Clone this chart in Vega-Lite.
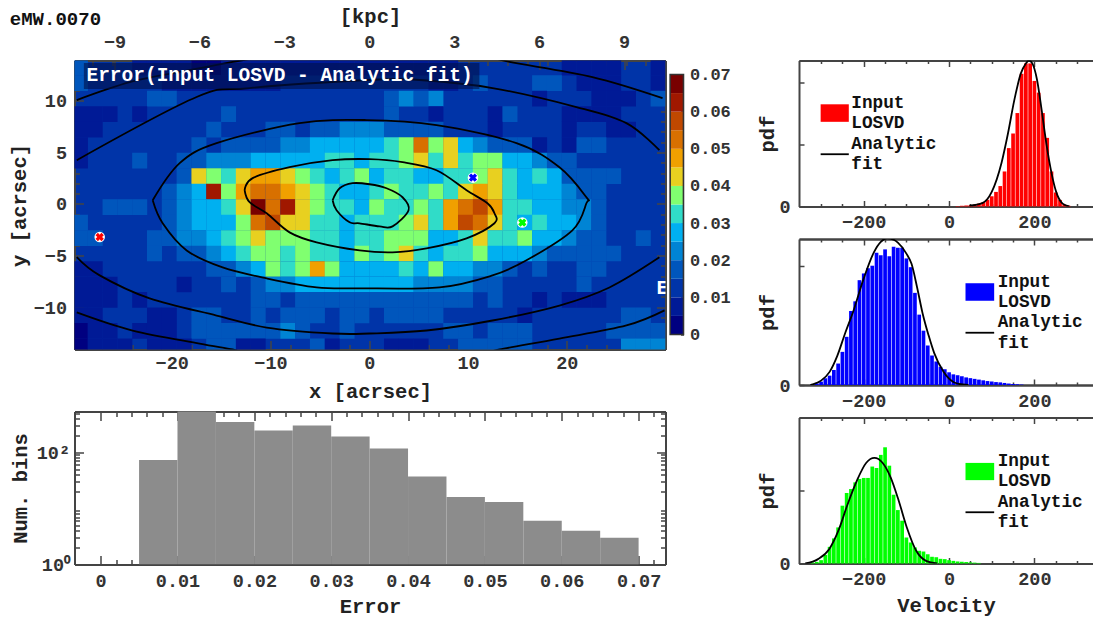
{"$schema":"https://vega.github.io/schema/vega-lite/v6.json","background":"white","padding":{"left":8.5,"top":6.5,"right":0,"bottom":3},"spacing":26.5,"config":{"view":{"stroke":null},"axis":{"grid":false,"labelFont":"Liberation Mono","labelFontWeight":"bold","labelFontSize":18.5,"labelColor":"#333","titleFont":"Liberation Mono","titleFontWeight":"bold","titleFontSize":20.5,"titleColor":"#222","domainColor":"#444","domainWidth":2,"tickColor":"#444","tickWidth":1.5,"zindex":1,"labelOverlap":false,"labelFlush":false,"labelBound":false,"labelPadding":9,"titlePadding":6}},"hconcat":[{"vconcat":[{"width":591,"height":289,"view":{"fill":"#0034a8"},"layer":[{"data":{"values":[
{"x":-29.25,"y":13.2,"v":0.018},{"x":-23.25,"y":13.2,"v":0.008},{"x":-21.75,"y":13.2,"v":0.008},{"x":-20.25,"y":13.2,"v":0.008},{"x":-18.75,"y":13.2,"v":0.008},{"x":-17.25,"y":13.2,"v":0.003},{"x":-15.75,"y":13.2,"v":0.003},{"x":-14.25,"y":13.2,"v":0.008},{"x":-12.75,"y":13.2,"v":0.008},{"x":-11.25,"y":13.2,"v":0.008},{"x":-9.75,"y":13.2,"v":0.008},{"x":-8.25,"y":13.2,"v":0.008},{"x":-6.75,"y":13.2,"v":0.008},{"x":-5.25,"y":13.2,"v":0.008},{"x":-3.75,"y":13.2,"v":0.008},{"x":-2.25,"y":13.2,"v":0.008},{"x":-0.75,"y":13.2,"v":0.008},{"x":0.75,"y":13.2,"v":0.008},{"x":2.25,"y":13.2,"v":0.008},{"x":3.75,"y":13.2,"v":0.008},{"x":5.25,"y":13.2,"v":0.008},{"x":6.75,"y":13.2,"v":0.008},{"x":8.25,"y":13.2,"v":0.008},{"x":20.25,"y":13.2,"v":0.008},{"x":21.75,"y":13.2,"v":0.008},{"x":23.25,"y":13.2,"v":0.008},{"x":24.75,"y":13.2,"v":0.008},{"x":29.25,"y":13.2,"v":0.008},
{"x":-29.25,"y":11.7,"v":0.018},{"x":-20.25,"y":11.7,"v":0.008},{"x":-18.75,"y":11.7,"v":0.008},{"x":-17.25,"y":11.7,"v":0.008},{"x":-15.75,"y":11.7,"v":0.008},{"x":-14.25,"y":11.7,"v":0.008},{"x":-12.75,"y":11.7,"v":0.008},{"x":-11.25,"y":11.7,"v":0.008},{"x":-9.75,"y":11.7,"v":0.008},{"x":6.75,"y":11.7,"v":0.008},{"x":8.25,"y":11.7,"v":0.008},{"x":11.25,"y":11.7,"v":0.018},{"x":17.25,"y":11.7,"v":0.018},{"x":18.75,"y":11.7,"v":0.018},{"x":21.75,"y":11.7,"v":0.008},{"x":23.25,"y":11.7,"v":0.008},{"x":24.75,"y":11.7,"v":0.008},{"x":29.25,"y":11.7,"v":0.008},
{"x":-21.75,"y":10.2,"v":0.018},{"x":-20.25,"y":10.2,"v":0.018},{"x":2.25,"y":10.2,"v":0.018},{"x":3.75,"y":10.2,"v":0.023},{"x":5.25,"y":10.2,"v":0.018},{"x":6.75,"y":10.2,"v":0.023},{"x":17.25,"y":10.2,"v":0.008},{"x":23.25,"y":10.2,"v":0.008},{"x":24.75,"y":10.2,"v":0.008},{"x":26.25,"y":10.2,"v":0.008},{"x":29.25,"y":10.2,"v":0.018},
{"x":-29.25,"y":8.7,"v":0.008},{"x":-27.75,"y":8.7,"v":0.008},{"x":-26.25,"y":8.7,"v":0.008},{"x":-23.25,"y":8.7,"v":0.008},{"x":-14.25,"y":8.7,"v":0.018},{"x":2.25,"y":8.7,"v":0.018},{"x":6.75,"y":8.7,"v":0.008},{"x":12.75,"y":8.7,"v":0.008},{"x":14.25,"y":8.7,"v":0.018},{"x":20.25,"y":8.7,"v":0.008},{"x":21.75,"y":8.7,"v":0.008},{"x":23.25,"y":8.7,"v":0.008},{"x":24.75,"y":8.7,"v":0.008},
{"x":-29.25,"y":7.2,"v":0.008},{"x":-27.75,"y":7.2,"v":0.008},{"x":-15.75,"y":7.2,"v":0.018},{"x":-9.75,"y":7.2,"v":0.018},{"x":-8.25,"y":7.2,"v":0.018},{"x":-5.25,"y":7.2,"v":0.018},{"x":-3.75,"y":7.2,"v":0.018},{"x":-2.25,"y":7.2,"v":0.023},{"x":-0.75,"y":7.2,"v":0.023},{"x":0.75,"y":7.2,"v":0.023},{"x":2.25,"y":7.2,"v":0.018},{"x":3.75,"y":7.2,"v":0.018},{"x":5.25,"y":7.2,"v":0.018},{"x":6.75,"y":7.2,"v":0.018},{"x":12.75,"y":7.2,"v":0.008},{"x":20.25,"y":7.2,"v":0.008},{"x":24.75,"y":7.2,"v":0.008},{"x":26.25,"y":7.2,"v":0.008},
{"x":-29.25,"y":5.7,"v":0.008},{"x":-17.25,"y":5.7,"v":0.018},{"x":-14.25,"y":5.7,"v":0.018},{"x":-12.75,"y":5.7,"v":0.018},{"x":-11.25,"y":5.7,"v":0.018},{"x":-9.75,"y":5.7,"v":0.018},{"x":-8.25,"y":5.7,"v":0.023},{"x":-6.75,"y":5.7,"v":0.023},{"x":-5.25,"y":5.7,"v":0.028},{"x":-3.75,"y":5.7,"v":0.028},{"x":-2.25,"y":5.7,"v":0.028},{"x":-0.75,"y":5.7,"v":0.028},{"x":0.75,"y":5.7,"v":0.028},{"x":2.25,"y":5.7,"v":0.033},{"x":3.75,"y":5.7,"v":0.038},{"x":5.25,"y":5.7,"v":0.053},{"x":6.75,"y":5.7,"v":0.038},{"x":8.25,"y":5.7,"v":0.043},{"x":9.75,"y":5.7,"v":0.028},{"x":11.25,"y":5.7,"v":0.023},{"x":12.75,"y":5.7,"v":0.018},{"x":14.25,"y":5.7,"v":0.018},{"x":15.75,"y":5.7,"v":0.018},{"x":17.25,"y":5.7,"v":0.008},{"x":20.25,"y":5.7,"v":0.008},{"x":21.75,"y":5.7,"v":0.018},{"x":23.25,"y":5.7,"v":0.018},
{"x":-29.25,"y":4.2,"v":0.008},{"x":-23.25,"y":4.2,"v":0.018},{"x":-18.75,"y":4.2,"v":0.018},{"x":-17.25,"y":4.2,"v":0.018},{"x":-15.75,"y":4.2,"v":0.023},{"x":-14.25,"y":4.2,"v":0.023},{"x":-12.75,"y":4.2,"v":0.023},{"x":-11.25,"y":4.2,"v":0.028},{"x":-9.75,"y":4.2,"v":0.028},{"x":-8.25,"y":4.2,"v":0.028},{"x":-6.75,"y":4.2,"v":0.028},{"x":-5.25,"y":4.2,"v":0.028},{"x":-3.75,"y":4.2,"v":0.033},{"x":-2.25,"y":4.2,"v":0.033},{"x":-0.75,"y":4.2,"v":0.028},{"x":0.75,"y":4.2,"v":0.033},{"x":2.25,"y":4.2,"v":0.033},{"x":3.75,"y":4.2,"v":0.038},{"x":5.25,"y":4.2,"v":0.043},{"x":6.75,"y":4.2,"v":0.033},{"x":8.25,"y":4.2,"v":0.043},{"x":9.75,"y":4.2,"v":0.033},{"x":11.25,"y":4.2,"v":0.038},{"x":12.75,"y":4.2,"v":0.038},{"x":14.25,"y":4.2,"v":0.028},{"x":15.75,"y":4.2,"v":0.028},{"x":17.25,"y":4.2,"v":0.023},{"x":18.75,"y":4.2,"v":0.018},{"x":20.25,"y":4.2,"v":0.018},
{"x":-18.75,"y":2.7,"v":0.018},{"x":-17.25,"y":2.7,"v":0.043},{"x":-15.75,"y":2.7,"v":0.038},{"x":-14.25,"y":2.7,"v":0.033},{"x":-12.75,"y":2.7,"v":0.043},{"x":-11.25,"y":2.7,"v":0.048},{"x":-9.75,"y":2.7,"v":0.048},{"x":-8.25,"y":2.7,"v":0.043},{"x":-6.75,"y":2.7,"v":0.038},{"x":-5.25,"y":2.7,"v":0.033},{"x":-3.75,"y":2.7,"v":0.028},{"x":-2.25,"y":2.7,"v":0.033},{"x":-0.75,"y":2.7,"v":0.038},{"x":0.75,"y":2.7,"v":0.028},{"x":2.25,"y":2.7,"v":0.033},{"x":3.75,"y":2.7,"v":0.033},{"x":5.25,"y":2.7,"v":0.028},{"x":6.75,"y":2.7,"v":0.028},{"x":8.25,"y":2.7,"v":0.033},{"x":9.75,"y":2.7,"v":0.033},{"x":11.25,"y":2.7,"v":0.038},{"x":12.75,"y":2.7,"v":0.043},{"x":14.25,"y":2.7,"v":0.033},{"x":15.75,"y":2.7,"v":0.028},{"x":17.25,"y":2.7,"v":0.033},{"x":18.75,"y":2.7,"v":0.028},{"x":20.25,"y":2.7,"v":0.018},{"x":21.75,"y":2.7,"v":0.018},{"x":23.25,"y":2.7,"v":0.018},{"x":24.75,"y":2.7,"v":0.018},
{"x":-20.25,"y":1.2,"v":0.018},{"x":-18.75,"y":1.2,"v":0.023},{"x":-17.25,"y":1.2,"v":0.028},{"x":-15.75,"y":1.2,"v":0.063},{"x":-14.25,"y":1.2,"v":0.038},{"x":-12.75,"y":1.2,"v":0.048},{"x":-11.25,"y":1.2,"v":0.053},{"x":-9.75,"y":1.2,"v":0.053},{"x":-8.25,"y":1.2,"v":0.048},{"x":-6.75,"y":1.2,"v":0.043},{"x":-5.25,"y":1.2,"v":0.038},{"x":-3.75,"y":1.2,"v":0.033},{"x":-2.25,"y":1.2,"v":0.028},{"x":-0.75,"y":1.2,"v":0.028},{"x":0.75,"y":1.2,"v":0.033},{"x":2.25,"y":1.2,"v":0.038},{"x":3.75,"y":1.2,"v":0.033},{"x":5.25,"y":1.2,"v":0.033},{"x":6.75,"y":1.2,"v":0.038},{"x":8.25,"y":1.2,"v":0.033},{"x":9.75,"y":1.2,"v":0.043},{"x":11.25,"y":1.2,"v":0.048},{"x":12.75,"y":1.2,"v":0.043},{"x":14.25,"y":1.2,"v":0.033},{"x":15.75,"y":1.2,"v":0.028},{"x":17.25,"y":1.2,"v":0.028},{"x":18.75,"y":1.2,"v":0.028},{"x":20.25,"y":1.2,"v":0.023},{"x":21.75,"y":1.2,"v":0.018},{"x":23.25,"y":1.2,"v":0.018},
{"x":-26.25,"y":-0.3,"v":0.018},{"x":-24.75,"y":-0.3,"v":0.018},{"x":-23.25,"y":-0.3,"v":0.018},{"x":-20.25,"y":-0.3,"v":0.018},{"x":-18.75,"y":-0.3,"v":0.023},{"x":-17.25,"y":-0.3,"v":0.028},{"x":-15.75,"y":-0.3,"v":0.028},{"x":-14.25,"y":-0.3,"v":0.033},{"x":-12.75,"y":-0.3,"v":0.043},{"x":-11.25,"y":-0.3,"v":0.068},{"x":-9.75,"y":-0.3,"v":0.053},{"x":-8.25,"y":-0.3,"v":0.063},{"x":-6.75,"y":-0.3,"v":0.043},{"x":-5.25,"y":-0.3,"v":0.038},{"x":-3.75,"y":-0.3,"v":0.033},{"x":-2.25,"y":-0.3,"v":0.033},{"x":-0.75,"y":-0.3,"v":0.028},{"x":0.75,"y":-0.3,"v":0.038},{"x":2.25,"y":-0.3,"v":0.033},{"x":3.75,"y":-0.3,"v":0.033},{"x":5.25,"y":-0.3,"v":0.038},{"x":6.75,"y":-0.3,"v":0.033},{"x":8.25,"y":-0.3,"v":0.048},{"x":9.75,"y":-0.3,"v":0.053},{"x":11.25,"y":-0.3,"v":0.058},{"x":12.75,"y":-0.3,"v":0.048},{"x":14.25,"y":-0.3,"v":0.033},{"x":15.75,"y":-0.3,"v":0.033},{"x":17.25,"y":-0.3,"v":0.028},{"x":18.75,"y":-0.3,"v":0.028},{"x":20.25,"y":-0.3,"v":0.023},{"x":21.75,"y":-0.3,"v":0.023},{"x":23.25,"y":-0.3,"v":0.018},
{"x":-29.25,"y":-1.8,"v":0.018},{"x":-20.25,"y":-1.8,"v":0.018},{"x":-18.75,"y":-1.8,"v":0.023},{"x":-17.25,"y":-1.8,"v":0.028},{"x":-15.75,"y":-1.8,"v":0.028},{"x":-14.25,"y":-1.8,"v":0.028},{"x":-12.75,"y":-1.8,"v":0.038},{"x":-11.25,"y":-1.8,"v":0.053},{"x":-9.75,"y":-1.8,"v":0.058},{"x":-8.25,"y":-1.8,"v":0.043},{"x":-6.75,"y":-1.8,"v":0.043},{"x":-5.25,"y":-1.8,"v":0.033},{"x":-3.75,"y":-1.8,"v":0.033},{"x":-2.25,"y":-1.8,"v":0.028},{"x":-0.75,"y":-1.8,"v":0.033},{"x":0.75,"y":-1.8,"v":0.033},{"x":2.25,"y":-1.8,"v":0.033},{"x":3.75,"y":-1.8,"v":0.038},{"x":5.25,"y":-1.8,"v":0.043},{"x":6.75,"y":-1.8,"v":0.033},{"x":8.25,"y":-1.8,"v":0.048},{"x":9.75,"y":-1.8,"v":0.058},{"x":11.25,"y":-1.8,"v":0.053},{"x":12.75,"y":-1.8,"v":0.043},{"x":14.25,"y":-1.8,"v":0.033},{"x":15.75,"y":-1.8,"v":0.028},{"x":17.25,"y":-1.8,"v":0.033},{"x":18.75,"y":-1.8,"v":0.028},{"x":20.25,"y":-1.8,"v":0.028},{"x":21.75,"y":-1.8,"v":0.023},{"x":23.25,"y":-1.8,"v":0.018},
{"x":-29.25,"y":-3.3,"v":0.018},{"x":-27.75,"y":-3.3,"v":0.018},{"x":-21.75,"y":-3.3,"v":0.018},{"x":-20.25,"y":-3.3,"v":0.018},{"x":-18.75,"y":-3.3,"v":0.023},{"x":-17.25,"y":-3.3,"v":0.023},{"x":-15.75,"y":-3.3,"v":0.028},{"x":-14.25,"y":-3.3,"v":0.033},{"x":-12.75,"y":-3.3,"v":0.038},{"x":-11.25,"y":-3.3,"v":0.043},{"x":-9.75,"y":-3.3,"v":0.038},{"x":-8.25,"y":-3.3,"v":0.038},{"x":-6.75,"y":-3.3,"v":0.038},{"x":-5.25,"y":-3.3,"v":0.033},{"x":-3.75,"y":-3.3,"v":0.033},{"x":-2.25,"y":-3.3,"v":0.028},{"x":-0.75,"y":-3.3,"v":0.033},{"x":0.75,"y":-3.3,"v":0.033},{"x":2.25,"y":-3.3,"v":0.038},{"x":3.75,"y":-3.3,"v":0.038},{"x":5.25,"y":-3.3,"v":0.038},{"x":6.75,"y":-3.3,"v":0.028},{"x":8.25,"y":-3.3,"v":0.028},{"x":9.75,"y":-3.3,"v":0.033},{"x":11.25,"y":-3.3,"v":0.043},{"x":12.75,"y":-3.3,"v":0.033},{"x":14.25,"y":-3.3,"v":0.033},{"x":15.75,"y":-3.3,"v":0.038},{"x":17.25,"y":-3.3,"v":0.028},{"x":18.75,"y":-3.3,"v":0.028},{"x":20.25,"y":-3.3,"v":0.023},{"x":21.75,"y":-3.3,"v":0.018},{"x":23.25,"y":-3.3,"v":0.018},{"x":27.75,"y":-3.3,"v":0.018},
{"x":-21.75,"y":-4.8,"v":0.018},{"x":-18.75,"y":-4.8,"v":0.018},{"x":-17.25,"y":-4.8,"v":0.018},{"x":-15.75,"y":-4.8,"v":0.023},{"x":-14.25,"y":-4.8,"v":0.028},{"x":-12.75,"y":-4.8,"v":0.033},{"x":-11.25,"y":-4.8,"v":0.038},{"x":-9.75,"y":-4.8,"v":0.038},{"x":-8.25,"y":-4.8,"v":0.033},{"x":-6.75,"y":-4.8,"v":0.038},{"x":-5.25,"y":-4.8,"v":0.033},{"x":-3.75,"y":-4.8,"v":0.033},{"x":-2.25,"y":-4.8,"v":0.028},{"x":-0.75,"y":-4.8,"v":0.038},{"x":0.75,"y":-4.8,"v":0.033},{"x":2.25,"y":-4.8,"v":0.038},{"x":3.75,"y":-4.8,"v":0.043},{"x":5.25,"y":-4.8,"v":0.033},{"x":6.75,"y":-4.8,"v":0.028},{"x":8.25,"y":-4.8,"v":0.033},{"x":9.75,"y":-4.8,"v":0.033},{"x":11.25,"y":-4.8,"v":0.038},{"x":12.75,"y":-4.8,"v":0.028},{"x":14.25,"y":-4.8,"v":0.028},{"x":15.75,"y":-4.8,"v":0.028},{"x":17.25,"y":-4.8,"v":0.023},{"x":18.75,"y":-4.8,"v":0.018},{"x":20.25,"y":-4.8,"v":0.018},{"x":21.75,"y":-4.8,"v":0.018},{"x":23.25,"y":-4.8,"v":0.018},{"x":24.75,"y":-4.8,"v":0.018},
{"x":-29.25,"y":-6.3,"v":0.008},{"x":-27.75,"y":-6.3,"v":0.008},{"x":-15.75,"y":-6.3,"v":0.018},{"x":-14.25,"y":-6.3,"v":0.018},{"x":-12.75,"y":-6.3,"v":0.023},{"x":-11.25,"y":-6.3,"v":0.028},{"x":-9.75,"y":-6.3,"v":0.038},{"x":-8.25,"y":-6.3,"v":0.033},{"x":-6.75,"y":-6.3,"v":0.038},{"x":-5.25,"y":-6.3,"v":0.048},{"x":-3.75,"y":-6.3,"v":0.038},{"x":-2.25,"y":-6.3,"v":0.028},{"x":-0.75,"y":-6.3,"v":0.028},{"x":0.75,"y":-6.3,"v":0.028},{"x":2.25,"y":-6.3,"v":0.028},{"x":3.75,"y":-6.3,"v":0.033},{"x":5.25,"y":-6.3,"v":0.028},{"x":6.75,"y":-6.3,"v":0.038},{"x":8.25,"y":-6.3,"v":0.028},{"x":9.75,"y":-6.3,"v":0.028},{"x":11.25,"y":-6.3,"v":0.023},{"x":12.75,"y":-6.3,"v":0.023},{"x":14.25,"y":-6.3,"v":0.018},{"x":17.25,"y":-6.3,"v":0.018},{"x":21.75,"y":-6.3,"v":0.018},{"x":23.25,"y":-6.3,"v":0.018},
{"x":-29.25,"y":-7.8,"v":0.008},{"x":-27.75,"y":-7.8,"v":0.008},{"x":-26.25,"y":-7.8,"v":0.008},{"x":-18.75,"y":-7.8,"v":0.008},{"x":-14.25,"y":-7.8,"v":0.018},{"x":-11.25,"y":-7.8,"v":0.018},{"x":-9.75,"y":-7.8,"v":0.023},{"x":-8.25,"y":-7.8,"v":0.023},{"x":-6.75,"y":-7.8,"v":0.028},{"x":-5.25,"y":-7.8,"v":0.028},{"x":-3.75,"y":-7.8,"v":0.028},{"x":-2.25,"y":-7.8,"v":0.028},{"x":-0.75,"y":-7.8,"v":0.028},{"x":0.75,"y":-7.8,"v":0.028},{"x":2.25,"y":-7.8,"v":0.028},{"x":3.75,"y":-7.8,"v":0.028},{"x":5.25,"y":-7.8,"v":0.023},{"x":6.75,"y":-7.8,"v":0.023},{"x":8.25,"y":-7.8,"v":0.023},{"x":9.75,"y":-7.8,"v":0.023},{"x":11.25,"y":-7.8,"v":0.018},{"x":12.75,"y":-7.8,"v":0.018},{"x":21.75,"y":-7.8,"v":0.018},
{"x":-29.25,"y":-9.3,"v":0.008},{"x":-27.75,"y":-9.3,"v":0.008},{"x":-26.25,"y":-9.3,"v":0.008},{"x":-23.25,"y":-9.3,"v":0.008},{"x":-11.25,"y":-9.3,"v":0.018},{"x":-9.75,"y":-9.3,"v":0.018},{"x":-6.75,"y":-9.3,"v":0.018},{"x":-5.25,"y":-9.3,"v":0.018},{"x":-3.75,"y":-9.3,"v":0.018},{"x":-2.25,"y":-9.3,"v":0.018},{"x":-0.75,"y":-9.3,"v":0.018},{"x":0.75,"y":-9.3,"v":0.018},{"x":2.25,"y":-9.3,"v":0.018},{"x":3.75,"y":-9.3,"v":0.018},{"x":5.25,"y":-9.3,"v":0.018},{"x":6.75,"y":-9.3,"v":0.018},{"x":8.25,"y":-9.3,"v":0.018},{"x":9.75,"y":-9.3,"v":0.018},{"x":12.75,"y":-9.3,"v":0.018},{"x":17.25,"y":-9.3,"v":0.008},{"x":20.25,"y":-9.3,"v":0.008},{"x":21.75,"y":-9.3,"v":0.008},{"x":23.25,"y":-9.3,"v":0.008},
{"x":-29.25,"y":-10.8,"v":0.008},{"x":-27.75,"y":-10.8,"v":0.008},{"x":-21.75,"y":-10.8,"v":0.008},{"x":-20.25,"y":-10.8,"v":0.008},{"x":-17.25,"y":-10.8,"v":0.018},{"x":-15.75,"y":-10.8,"v":0.018},{"x":-11.25,"y":-10.8,"v":0.018},{"x":-8.25,"y":-10.8,"v":0.018},{"x":-6.75,"y":-10.8,"v":0.018},{"x":-5.25,"y":-10.8,"v":0.018},{"x":-2.25,"y":-10.8,"v":0.018},{"x":-0.75,"y":-10.8,"v":0.018},{"x":2.25,"y":-10.8,"v":0.018},{"x":3.75,"y":-10.8,"v":0.018},{"x":5.25,"y":-10.8,"v":0.018},{"x":6.75,"y":-10.8,"v":0.018},{"x":15.75,"y":-10.8,"v":0.008},{"x":26.25,"y":-10.8,"v":0.018},{"x":27.75,"y":-10.8,"v":0.018},
{"x":-29.25,"y":-12.3,"v":0.003},{"x":-27.75,"y":-12.3,"v":0.008},{"x":-26.25,"y":-12.3,"v":0.008},{"x":-23.25,"y":-12.3,"v":0.008},{"x":-21.75,"y":-12.3,"v":0.008},{"x":-20.25,"y":-12.3,"v":0.008},{"x":-17.25,"y":-12.3,"v":0.018},{"x":-15.75,"y":-12.3,"v":0.018},{"x":-14.25,"y":-12.3,"v":0.018},{"x":-12.75,"y":-12.3,"v":0.018},{"x":-11.25,"y":-12.3,"v":0.018},{"x":-9.75,"y":-12.3,"v":0.018},{"x":-8.25,"y":-12.3,"v":0.023},{"x":-6.75,"y":-12.3,"v":0.018},{"x":-2.25,"y":-12.3,"v":0.018},{"x":8.25,"y":-12.3,"v":0.018},{"x":9.75,"y":-12.3,"v":0.018},{"x":12.75,"y":-12.3,"v":0.018},{"x":14.25,"y":-12.3,"v":0.018},{"x":15.75,"y":-12.3,"v":0.018},{"x":24.75,"y":-12.3,"v":0.018},{"x":26.25,"y":-12.3,"v":0.018},{"x":27.75,"y":-12.3,"v":0.018},{"x":29.25,"y":-12.3,"v":0.018},
{"x":-29.25,"y":-13.8,"v":0.003},{"x":-27.75,"y":-13.8,"v":0.008},{"x":-26.25,"y":-13.8,"v":0.008},{"x":-24.75,"y":-13.8,"v":0.008},{"x":-21.75,"y":-13.8,"v":0.008},{"x":-20.25,"y":-13.8,"v":0.008},{"x":-18.75,"y":-13.8,"v":0.008},{"x":-15.75,"y":-13.8,"v":0.018},{"x":-14.25,"y":-13.8,"v":0.018},{"x":-12.75,"y":-13.8,"v":0.008},{"x":-11.25,"y":-13.8,"v":0.008},{"x":-5.25,"y":-13.8,"v":0.018},{"x":-3.75,"y":-13.8,"v":0.008},{"x":2.25,"y":-13.8,"v":0.008},{"x":3.75,"y":-13.8,"v":0.008},{"x":5.25,"y":-13.8,"v":0.008},{"x":9.75,"y":-13.8,"v":0.018},{"x":11.25,"y":-13.8,"v":0.018},{"x":12.75,"y":-13.8,"v":0.018},{"x":14.25,"y":-13.8,"v":0.018},{"x":15.75,"y":-13.8,"v":0.018},{"x":26.25,"y":-13.8,"v":0.023},{"x":27.75,"y":-13.8,"v":0.023},{"x":29.25,"y":-13.8,"v":0.023}
]},"mark":{"type":"rect","width":15,"height":15.7,"clip":true},"encoding":{"x":{"field":"x","type":"quantitative","scale":{"domain":[-29.85,30],"nice":false,"zero":false},"axis":{"orient":"bottom","values":[-20,-10,0,10,20],"tickSize":-9,"labelPadding":13,"titlePadding":9,"title":"x [acrsec]"}},"y":{"field":"y","type":"quantitative","scale":{"domain":[-14.1,13.9],"nice":false,"zero":false},"axis":{"orient":"left","values":[-10,-5,0,5,10],"tickSize":-9,"labelPadding":17,"titlePadding":4,"title":"y [acrsec]"}},"color":{"field":"v","type":"quantitative","legend":null,"scale":{"type":"threshold","domain":[0.005,0.01,0.015,0.02,0.025,0.03,0.035,0.04,0.045,0.05,0.055,0.06,0.065],"range":["#000080","#001a96","#0034a8","#0056bc","#0084d4","#00b0f0","#30dcc8","#80ff70","#e8d020","#f0a000","#d87000","#c04800","#a01800","#780000"]}}}},{"data":{"values":[{"c":1,"o":0,"x":-3.71,"y":0.36},{"c":1,"o":1,"x":-3.0,"y":1.52},{"c":1,"o":2,"x":-1.69,"y":2.01},{"c":1,"o":3,"x":0.03,"y":1.91},{"c":1,"o":4,"x":1.75,"y":1.52},{"c":1,"o":5,"x":3.37,"y":0.65},{"c":1,"o":6,"x":3.98,"y":-0.61},{"c":1,"o":7,"x":2.36,"y":-2.17},{"c":1,"o":8,"x":1.04,"y":-2.17},{"c":1,"o":9,"x":-0.98,"y":-1.87},{"c":1,"o":10,"x":-1.99,"y":-1.78},{"c":1,"o":11,"x":-3.31,"y":-0.61},{"c":1,"o":12,"x":-3.71,"y":0.36},{"c":2,"o":0,"x":-12.62,"y":1.33},{"c":2,"o":1,"x":-11.81,"y":2.5},{"c":2,"o":2,"x":-8.07,"y":3.56},{"c":2,"o":3,"x":-3.71,"y":4.24},{"c":2,"o":4,"x":0.03,"y":4.34},{"c":2,"o":5,"x":3.37,"y":4.05},{"c":2,"o":6,"x":6.81,"y":3.27},{"c":2,"o":7,"x":9.85,"y":1.33},{"c":2,"o":8,"x":11.97,"y":0.07},{"c":2,"o":9,"x":12.68,"y":-0.9},{"c":2,"o":10,"x":12.68,"y":-1.87},{"c":2,"o":11,"x":9.85,"y":-3.33},{"c":2,"o":12,"x":5.8,"y":-4.3},{"c":2,"o":13,"x":2.36,"y":-4.69},{"c":2,"o":14,"x":-0.98,"y":-4.5},{"c":2,"o":15,"x":-5.33,"y":-3.72},{"c":2,"o":16,"x":-8.07,"y":-2.75},{"c":2,"o":17,"x":-10.39,"y":-0.9},{"c":2,"o":18,"x":-12.12,"y":0.17},{"c":2,"o":19,"x":-12.62,"y":1.33},{"c":3,"o":0,"x":-21.93,"y":0.36},{"c":3,"o":1,"x":-19.2,"y":3.95},{"c":3,"o":2,"x":-15.46,"y":5.89},{"c":3,"o":3,"x":-7.06,"y":7.83},{"c":3,"o":4,"x":-0.27,"y":8.13},{"c":3,"o":5,"x":6.81,"y":7.64},{"c":3,"o":6,"x":14.91,"y":5.89},{"c":3,"o":7,"x":19.26,"y":3.56},{"c":3,"o":8,"x":21.99,"y":0.65},{"c":3,"o":9,"x":21.99,"y":0.07},{"c":3,"o":10,"x":20.57,"y":-2.55},{"c":3,"o":11,"x":15.92,"y":-5.46},{"c":3,"o":12,"x":12.48,"y":-6.92},{"c":3,"o":13,"x":7.12,"y":-8.08},{"c":3,"o":14,"x":-0.98,"y":-8.17},{"c":3,"o":15,"x":-5.33,"y":-8.08},{"c":3,"o":16,"x":-10.39,"y":-7.21},{"c":3,"o":17,"x":-14.85,"y":-6.15},{"c":3,"o":18,"x":-18.49,"y":-4.5},{"c":3,"o":19,"x":-20.92,"y":-1.87},{"c":3,"o":20,"x":-21.93,"y":0.36},{"c":4,"o":0,"x":-29.62,"y":4.24},{"c":4,"o":1,"x":-17.48,"y":10.36},{"c":4,"o":2,"x":-12.12,"y":11.23},{"c":4,"o":3,"x":0.03,"y":12.01},{"c":4,"o":4,"x":5.09,"y":12.01},{"c":4,"o":5,"x":12.48,"y":11.23},{"c":4,"o":6,"x":20.98,"y":9.39},{"c":4,"o":7,"x":26.04,"y":7.83},{"c":4,"o":8,"x":29.38,"y":5.21},{"c":5,"o":0,"x":-29.62,"y":-5.15},{"c":5,"o":1,"x":-27.3,"y":-6.92},{"c":5,"o":2,"x":-22.24,"y":-9.15},{"c":5,"o":3,"x":-15.46,"y":-10.81},{"c":5,"o":4,"x":-10.39,"y":-11.97},{"c":5,"o":5,"x":-3.71,"y":-12.55},{"c":5,"o":6,"x":0.03,"y":-12.55},{"c":5,"o":7,"x":5.8,"y":-12.26},{"c":5,"o":8,"x":12.48,"y":-11.29},{"c":5,"o":9,"x":19.26,"y":-9.84},{"c":5,"o":10,"x":24.32,"y":-8.09},{"c":5,"o":11,"x":29.38,"y":-5.17},{"c":6,"o":0,"x":-29.62,"y":10.07},{"c":6,"o":1,"x":-24.26,"y":11.8},{"c":6,"o":2,"x":-19.2,"y":12.79},{"c":6,"o":3,"x":-13.83,"y":13.76},{"c":6,"o":4,"x":-12.1,"y":14.05},{"c":7,"o":0,"x":12.68,"y":14.24},{"c":7,"o":1,"x":14.2,"y":13.76},{"c":7,"o":2,"x":22.6,"y":12.3},{"c":7,"o":3,"x":29.7,"y":10.26},{"c":8,"o":0,"x":-29.62,"y":-10.5},{"c":8,"o":1,"x":-23.96,"y":-12.26},{"c":8,"o":2,"x":-17.18,"y":-13.52},{"c":8,"o":3,"x":-13.83,"y":-14.1},{"c":8,"o":4,"x":-13.1,"y":-14.4},{"c":9,"o":0,"x":12.2,"y":-14.4},{"c":9,"o":1,"x":13.2,"y":-14.1},{"c":9,"o":2,"x":19.26,"y":-13.04},{"c":9,"o":3,"x":26.04,"y":-11.77},{"c":9,"o":4,"x":29.9,"y":-10.31}]},"mark":{"type":"line","color":"black","strokeWidth":1.8,"clip":true,"interpolate":"cardinal"},"encoding":{"x":{"field":"x","type":"quantitative","axis":{"orient":"bottom","values":[-28,-26,-24,-22,-18,-16,-14,-12,-8,-6,-4,-2,2,4,6,8,12,14,16,18,22,24,26,28],"tickSize":-5,"labels":false,"title":null}},"y":{"field":"y","type":"quantitative","scale":{"domain":[-14.1,13.9],"nice":false,"zero":false},"axis":{"orient":"left","values":[-14,-13,-12,-11,-9,-8,-7,-6,-4,-3,-2,-1,1,2,3,4,6,7,8,9,11,12,13],"tickSize":-5,"labels":false,"title":null}},"detail":{"field":"c"},"order":{"field":"o"}}},{"data":{"values":[{"x":-28.9,"x2":11.15,"y":13.66,"y2":11.14}]},"mark":{"type":"rect","fill":"#00104a","opacity":0.6},"encoding":{"x":{"field":"x","type":"quantitative","axis":{"orient":"top","values":[-25.8,-17.2,-8.6,0,8.6,17.2,25.8],"tickSize":-9,"labelPadding":18,"labelExpr":"format(round(datum.value/8.6*3),'d')","title":"[kpc]"}},"x2":{"field":"x2"},"y":{"field":"y","type":"quantitative","scale":{"domain":[-14.1,13.9],"nice":false,"zero":false},"axis":{"orient":"right","values":[-10,-5,0,5,10],"tickSize":-9,"labels":false,"title":null}},"y2":{"field":"y2"}}},{"data":{"values":[{"x":-28.64,"y":12.47,"t":"Error(Input LOSVD - Analytic fit)"}]},"mark":{"type":"text","align":"left","baseline":"middle","font":"Liberation Mono","fontWeight":"bold","fontSize":19.5,"color":"white"},"encoding":{"x":{"field":"x","type":"quantitative","axis":{"orient":"top","values":[-28,-26,-24,-22,-20,-18,-16,-14,-12,-10,-8,-6,-4,-2,0,2,4,6,8,10,12,14,16,18,20,22,24,26,28],"tickSize":-5,"labels":false,"title":null}},"y":{"field":"y","type":"quantitative","scale":{"domain":[-14.1,13.9],"nice":false,"zero":false},"axis":{"orient":"right","values":[-14,-13,-12,-11,-9,-8,-7,-6,-4,-3,-2,-1,1,2,3,4,6,7,8,9,11,12,13],"tickSize":-5,"labels":false,"title":null}},"text":{"field":"t"}}},{"data":{"values":[{"x":-36.4,"y":17.9,"t":"eMW.0070"}]},"mark":{"type":"text","align":"left","baseline":"middle","font":"Liberation Mono","fontWeight":"bold","fontSize":19,"color":"#111"},"encoding":{"x":{"field":"x","type":"quantitative","axis":null},"y":{"field":"y","type":"quantitative","scale":{"domain":[-14.1,13.9],"nice":false,"zero":false},"axis":null},"text":{"field":"t"}}},{"data":{"values":[{"x":29.1,"y":-8.1,"t":"E"}]},"mark":{"type":"text","align":"left","baseline":"middle","font":"Liberation Mono","fontWeight":"bold","fontSize":20,"color":"white","clip":true},"encoding":{"x":{"field":"x","type":"quantitative","axis":null},"y":{"field":"y","type":"quantitative","scale":{"domain":[-14.1,13.9],"nice":false,"zero":false},"axis":null},"text":{"field":"t"}}},{"data":{"name":"mk","values":[{"x":-27.3,"y":-3.2,"c":"#ff0000"},{"x":10.5,"y":2.55,"c":"#0000ff"},{"x":15.5,"y":-1.8,"c":"#00ff00"}]},"mark":{"type":"point","shape":"circle","filled":true,"opacity":1,"size":110,"color":"white"},"encoding":{"x":{"field":"x","type":"quantitative","axis":null},"y":{"field":"y","type":"quantitative","scale":{"domain":[-14.1,13.9],"nice":false,"zero":false},"axis":null}}},{"data":{"name":"mk"},"mark":{"type":"point","shape":"cross","filled":true,"opacity":1,"size":70,"angle":45},"encoding":{"x":{"field":"x","type":"quantitative","axis":null},"y":{"field":"y","type":"quantitative","scale":{"domain":[-14.1,13.9],"nice":false,"zero":false},"axis":null},"color":{"field":"c","type":"nominal","scale":null,"legend":null}}},{"data":{"values":[{"a":30.47,"b":31.82,"lo":0,"hi":0.005,"k":"#000080"},{"a":30.47,"b":31.82,"lo":0.005,"hi":0.01,"k":"#001a96"},{"a":30.47,"b":31.82,"lo":0.01,"hi":0.015,"k":"#0034a8"},{"a":30.47,"b":31.82,"lo":0.015,"hi":0.02,"k":"#0056bc"},{"a":30.47,"b":31.82,"lo":0.02,"hi":0.025,"k":"#0084d4"},{"a":30.47,"b":31.82,"lo":0.025,"hi":0.03,"k":"#00b0f0"},{"a":30.47,"b":31.82,"lo":0.03,"hi":0.035,"k":"#30dcc8"},{"a":30.47,"b":31.82,"lo":0.035,"hi":0.04,"k":"#80ff70"},{"a":30.47,"b":31.82,"lo":0.04,"hi":0.045,"k":"#e8d020"},{"a":30.47,"b":31.82,"lo":0.045,"hi":0.05,"k":"#f0a000"},{"a":30.47,"b":31.82,"lo":0.05,"hi":0.055,"k":"#d87000"},{"a":30.47,"b":31.82,"lo":0.055,"hi":0.06,"k":"#c04800"},{"a":30.47,"b":31.82,"lo":0.06,"hi":0.065,"k":"#a01800"},{"a":30.47,"b":31.82,"lo":0.065,"hi":0.07,"k":"#780000"}]},"mark":{"type":"rect"},"encoding":{"x":{"field":"a","type":"quantitative","axis":null},"x2":{"field":"b"},"y":{"field":"lo","type":"quantitative","scale":{"domain":[-0.00404,0.07377],"nice":false,"zero":false},"axis":{"orient":"right","offset":18,"values":[0,0.01,0.02,0.03,0.04,0.05,0.06,0.07],"domain":false,"tickSize":-3,"labelFontSize":17,"labelPadding":9,"labelExpr":"datum.value==0?'0':format(datum.value,'.2f')","title":null}},"y2":{"field":"hi"},"fill":{"field":"k","type":"nominal","scale":null,"legend":null}}},{"data":{"values":[{"a":30.47,"b":31.82,"lo":0,"hi":0.07}]},"mark":{"type":"rect","fill":null,"stroke":"#333","strokeWidth":1.6},"encoding":{"x":{"field":"a","type":"quantitative","axis":null},"x2":{"field":"b"},"y":{"field":"lo","type":"quantitative","scale":{"domain":[-0.00404,0.07377],"nice":false,"zero":false},"axis":null},"y2":{"field":"hi"}}}],"resolve":{"axis":{"x":"independent","y":"independent"},"scale":{"y":"independent"}}},{"width":591,"height":153,"layer":[{"data":{"values":[{"lo":0.005,"hi":0.01,"n":73},{"lo":0.01,"hi":0.015,"n":600},{"lo":0.015,"hi":0.02,"n":345},{"lo":0.02,"hi":0.025,"n":243},{"lo":0.025,"hi":0.03,"n":301},{"lo":0.03,"hi":0.035,"n":190},{"lo":0.035,"hi":0.04,"n":117},{"lo":0.04,"hi":0.045,"n":37},{"lo":0.045,"hi":0.05,"n":16},{"lo":0.05,"hi":0.055,"n":13},{"lo":0.055,"hi":0.06,"n":6},{"lo":0.06,"hi":0.065,"n":4},{"lo":0.065,"hi":0.07,"n":3}]},"mark":{"type":"rect","color":"#8c8c8c","clip":true},"encoding":{"x":{"field":"lo","type":"quantitative","scale":{"domain":[-0.0034,0.0735],"nice":false,"zero":false},"axis":{"orient":"bottom","values":[0,0.01,0.02,0.03,0.04,0.05,0.06,0.07],"tickSize":-9,"labelPadding":16,"titlePadding":6.5,"labelExpr":"datum.value==0?'0':format(datum.value,'.2f')","title":"Error"}},"x2":{"field":"hi"},"y":{"field":"n","type":"quantitative","scale":{"type":"log","domain":[1,532],"nice":false},"axis":{"orient":"left","values":[1,100],"tickSize":-9,"labelPadding":14,"titlePadding":6,"labelExpr":"datum.value==1?'10⁰':'10²'","title":"Num. bins"}},"y2":{"datum":1}}},{"data":{"values":[]},"mark":"point","encoding":{"x":{"field":"x","type":"quantitative","axis":{"orient":"bottom","values":[0.002,0.004,0.006,0.008,0.012,0.014,0.016,0.018,0.022,0.024,0.026,0.028,0.032,0.034,0.036,0.038,0.042,0.044,0.046,0.048,0.052,0.054,0.056,0.058,0.062,0.064,0.066,0.068,0.072],"tickSize":-5,"labels":false,"title":null}},"y":{"field":"y","type":"quantitative","axis":{"orient":"left","values":[2,3,4,5,6,7,8,9,20,30,40,50,60,70,80,90,200,300,400,500],"tickSize":-5,"labels":false,"title":null}}}},{"data":{"values":[]},"mark":"point","encoding":{"x":{"field":"x","type":"quantitative","axis":{"orient":"top","values":[0,0.01,0.02,0.03,0.04,0.05,0.06,0.07],"tickSize":-9,"labels":false,"title":null}},"y":{"field":"y","type":"quantitative","axis":{"orient":"right","values":[1,100],"tickSize":-9,"labels":false,"title":null}}}},{"data":{"values":[]},"mark":"point","encoding":{"x":{"field":"x","type":"quantitative","axis":{"orient":"top","values":[0.002,0.004,0.006,0.008,0.012,0.014,0.016,0.018,0.022,0.024,0.026,0.028,0.032,0.034,0.036,0.038,0.042,0.044,0.046,0.048,0.052,0.054,0.056,0.058,0.062,0.064,0.066,0.068,0.072],"tickSize":-5,"labels":false,"title":null}},"y":{"field":"y","type":"quantitative","axis":{"orient":"right","values":[2,3,4,5,6,7,8,9,20,30,40,50,60,70,80,90,200,300,400,500],"tickSize":-5,"labels":false,"title":null}}}}],"resolve":{"axis":{"x":"independent","y":"independent"}}}],"spacing":9},{"vconcat":[{"width":294,"height":146,"layer":[{"data":{"values":[{"v":20,"h":0.003},{"v":30,"h":0.005},{"v":40,"h":0.007},{"v":50,"h":0.01},{"v":60,"h":0.014},{"v":70,"h":0.02},{"v":80,"h":0.03},{"v":90,"h":0.046},{"v":100,"h":0.07},{"v":110,"h":0.1},{"v":120,"h":0.14},{"v":130,"h":0.24},{"v":140,"h":0.4},{"v":150,"h":0.5},{"v":160,"h":0.64},{"v":170,"h":0.91},{"v":180,"h":0.98},{"v":190,"h":0.98},{"v":200,"h":0.86},{"v":210,"h":0.78},{"v":220,"h":0.64},{"v":230,"h":0.47},{"v":240,"h":0.24},{"v":250,"h":0.096},{"v":260,"h":0.045},{"v":270,"h":0.014},{"v":280,"h":0.005}]},"mark":{"type":"bar","width":3.7,"color":"#ff0000"},"encoding":{"x":{"field":"v","type":"quantitative","scale":{"domain":[-340,325.6],"nice":false,"zero":false},"axis":{"orient":"bottom","values":[-200,0,200],"tickSize":-6,"labelPadding":12,"title":null}},"y":{"field":"h","type":"quantitative","scale":{"domain":[0,1],"nice":false},"axis":{"orient":"left","values":[0,0.4236,0.847],"tickSize":-5,"labelPadding":14,"titlePadding":1,"labelExpr":"datum.value==0?'0':''","title":"pdf"}}}},{"data":{"values":[{"v":48,"h":0.005},{"v":78,"h":0.023},{"v":100,"h":0.1},{"v":123,"h":0.3},{"v":138,"h":0.5},{"v":153,"h":0.73},{"v":168,"h":0.91},{"v":180,"h":0.98},{"v":187,"h":1},{"v":195,"h":0.98},{"v":206,"h":0.87},{"v":217,"h":0.66},{"v":228,"h":0.43},{"v":240,"h":0.23},{"v":251,"h":0.1},{"v":266,"h":0.02},{"v":282,"h":0}]},"mark":{"type":"line","color":"black","strokeWidth":1.8,"interpolate":"monotone","clip":true},"encoding":{"x":{"field":"v","type":"quantitative","axis":{"orient":"bottom","values":[-300,-250,-150,-100,-50,50,100,150,250,300],"tickSize":-3,"labels":false,"title":null}},"y":{"field":"h","type":"quantitative","axis":null}}},{"data":{"values":[{"v":-301,"v2":-235,"h":0.7,"h2":0.58}]},"mark":{"type":"rect","color":"#ff0000"},"encoding":{"x":{"field":"v","type":"quantitative","axis":{"orient":"top","values":[-200,0,200],"tickSize":-6,"labels":false,"title":null}},"x2":{"field":"v2"},"y":{"field":"h","type":"quantitative","axis":null},"y2":{"field":"h2"}}},{"data":{"values":[{"v":-301,"h":0.358},{"v":-235,"h":0.358}]},"mark":{"type":"line","color":"black","strokeWidth":1.8},"encoding":{"x":{"field":"v","type":"quantitative","axis":{"orient":"top","values":[-300,-250,-150,-100,-50,50,100,150,250,300],"tickSize":-3,"labels":false,"title":null}},"y":{"field":"h","type":"quantitative","axis":null}}},{"data":{"values":[{"v":-229,"h":0.71,"t":"Input"},{"v":-229,"h":0.57,"t":"LOSVD"},{"v":-229,"h":0.427,"t":"Analytic"},{"v":-229,"h":0.29,"t":"fit"}]},"mark":{"type":"text","align":"left","baseline":"middle","font":"Liberation Mono","fontWeight":"bold","fontSize":17.7,"color":"#111"},"encoding":{"x":{"field":"v","type":"quantitative","axis":null},"y":{"field":"h","type":"quantitative","axis":null},"text":{"field":"t"}}},{"data":{"values":[{"v":0,"h":1.2877,"t":"."}]},"mark":{"type":"text","baseline":"middle","font":"Liberation Mono","fontWeight":"bold","fontSize":19,"opacity":0},"encoding":{"x":{"field":"v","type":"quantitative","axis":null},"y":{"field":"h","type":"quantitative","axis":null},"text":{"field":"t"}}}],"resolve":{"axis":{"x":"independent","y":"independent"}}},{"width":294,"height":146,"layer":[{"data":{"values":[{"v":-320,"h":0.007},{"v":-310,"h":0.011},{"v":-300,"h":0.023},{"v":-290,"h":0.046},{"v":-280,"h":0.064},{"v":-270,"h":0.103},{"v":-260,"h":0.147},{"v":-250,"h":0.227},{"v":-240,"h":0.33},{"v":-230,"h":0.507},{"v":-220,"h":0.573},{"v":-210,"h":0.718},{"v":-200,"h":0.764},{"v":-190,"h":0.8},{"v":-180,"h":0.817},{"v":-170,"h":0.906},{"v":-160,"h":0.888},{"v":-150,"h":0.929},{"v":-140,"h":0.881},{"v":-130,"h":0.947},{"v":-120,"h":0.94},{"v":-110,"h":0.94},{"v":-100,"h":0.867},{"v":-90,"h":0.807},{"v":-80,"h":0.631},{"v":-70,"h":0.482},{"v":-60,"h":0.372},{"v":-50,"h":0.271},{"v":-40,"h":0.202},{"v":-30,"h":0.161},{"v":-20,"h":0.124},{"v":-10,"h":0.108},{"v":0,"h":0.087},{"v":10,"h":0.073},{"v":20,"h":0.067},{"v":30,"h":0.06},{"v":40,"h":0.052},{"v":50,"h":0.047},{"v":60,"h":0.042},{"v":70,"h":0.037},{"v":80,"h":0.032},{"v":90,"h":0.027},{"v":100,"h":0.024},{"v":110,"h":0.02},{"v":120,"h":0.018},{"v":130,"h":0.014},{"v":140,"h":0.01},{"v":150,"h":0.007},{"v":160,"h":0.005},{"v":170,"h":0.003}]},"mark":{"type":"bar","width":3.7,"color":"#0000ff"},"encoding":{"x":{"field":"v","type":"quantitative","scale":{"domain":[-340,325.6],"nice":false,"zero":false},"axis":{"orient":"bottom","values":[-200,0,200],"tickSize":-6,"labelPadding":12,"title":null}},"y":{"field":"h","type":"quantitative","scale":{"domain":[0,1],"nice":false},"axis":{"orient":"left","values":[0,0.817],"tickSize":-5,"labelPadding":14,"titlePadding":1,"labelExpr":"datum.value==0?'0':''","title":"pdf"}}}},{"data":{"values":[{"v":-325,"h":0},{"v":-320,"h":0.004},{"v":-300,"h":0.03},{"v":-280,"h":0.09},{"v":-262,"h":0.2},{"v":-243,"h":0.36},{"v":-225,"h":0.5},{"v":-200,"h":0.73},{"v":-176,"h":0.91},{"v":-160,"h":0.98},{"v":-145,"h":1.005},{"v":-130,"h":0.995},{"v":-120,"h":0.975},{"v":-100,"h":0.9},{"v":-88,"h":0.83},{"v":-75,"h":0.67},{"v":-62,"h":0.49},{"v":-48,"h":0.34},{"v":-35,"h":0.22},{"v":-13,"h":0.09},{"v":10,"h":0.02},{"v":23,"h":0.007},{"v":45,"h":0}]},"mark":{"type":"line","color":"black","strokeWidth":1.8,"interpolate":"monotone","clip":true},"encoding":{"x":{"field":"v","type":"quantitative","axis":{"orient":"bottom","values":[-300,-250,-150,-100,-50,50,100,150,250,300],"tickSize":-3,"labels":false,"title":null}},"y":{"field":"h","type":"quantitative","axis":null}}},{"data":{"values":[{"v":38.5,"v2":105.7,"h":0.697,"h2":0.577}]},"mark":{"type":"rect","color":"#0000ff"},"encoding":{"x":{"field":"v","type":"quantitative","axis":{"orient":"top","values":[-200,0,200],"tickSize":-6,"labels":false,"title":null}},"x2":{"field":"v2"},"y":{"field":"h","type":"quantitative","axis":null},"y2":{"field":"h2"}}},{"data":{"values":[{"v":38.5,"h":0.358},{"v":105.7,"h":0.358}]},"mark":{"type":"line","color":"black","strokeWidth":1.8},"encoding":{"x":{"field":"v","type":"quantitative","axis":{"orient":"top","values":[-300,-250,-150,-100,-50,50,100,150,250,300],"tickSize":-3,"labels":false,"title":null}},"y":{"field":"h","type":"quantitative","axis":null}}},{"data":{"values":[{"v":114,"h":0.708,"t":"Input"},{"v":114,"h":0.57,"t":"LOSVD"},{"v":114,"h":0.43,"t":"Analytic"},{"v":114,"h":0.288,"t":"fit"}]},"mark":{"type":"text","align":"left","baseline":"middle","font":"Liberation Mono","fontWeight":"bold","fontSize":17.7,"color":"#111"},"encoding":{"x":{"field":"v","type":"quantitative","axis":null},"y":{"field":"h","type":"quantitative","axis":null},"text":{"field":"t"}}}],"resolve":{"axis":{"x":"independent","y":"independent"}}},{"width":294,"height":146,"layer":[{"data":{"values":[{"v":-320,"h":0.007},{"v":-310,"h":0.011},{"v":-300,"h":0.023},{"v":-290,"h":0.059},{"v":-280,"h":0.114},{"v":-270,"h":0.172},{"v":-260,"h":0.247},{"v":-250,"h":0.396},{"v":-240,"h":0.483},{"v":-230,"h":0.51},{"v":-220,"h":0.556},{"v":-210,"h":0.579},{"v":-200,"h":0.586},{"v":-190,"h":0.586},{"v":-180,"h":0.664},{"v":-170,"h":0.654},{"v":-160,"h":0.744},{"v":-150,"h":0.796},{"v":-140,"h":0.67},{"v":-130,"h":0.471},{"v":-120,"h":0.366},{"v":-110,"h":0.293},{"v":-100,"h":0.178},{"v":-90,"h":0.144},{"v":-80,"h":0.11},{"v":-70,"h":0.087},{"v":-60,"h":0.082},{"v":-50,"h":0.064},{"v":-40,"h":0.046},{"v":-30,"h":0.043},{"v":-20,"h":0.032},{"v":-10,"h":0.03},{"v":0,"h":0.023},{"v":10,"h":0.018},{"v":20,"h":0.014},{"v":30,"h":0.012},{"v":40,"h":0.01},{"v":50,"h":0.008},{"v":60,"h":0.006},{"v":70,"h":0.004}]},"mark":{"type":"bar","width":3.7,"color":"#00ff00"},"encoding":{"x":{"field":"v","type":"quantitative","scale":{"domain":[-340,325.6],"nice":false,"zero":false},"axis":{"orient":"bottom","values":[-200,0,200],"tickSize":-6,"labelPadding":12,"titlePadding":7,"title":"Velocity"}},"y":{"field":"h","type":"quantitative","scale":{"domain":[0,1],"nice":false},"axis":{"orient":"left","values":[0,0.498],"tickSize":-5,"labelPadding":14,"titlePadding":1,"labelExpr":"datum.value==0?'0':''","title":"pdf"}}}},{"data":{"values":[{"v":-337,"h":0},{"v":-307,"h":0.03},{"v":-281,"h":0.098},{"v":-258,"h":0.235},{"v":-239,"h":0.396},{"v":-216,"h":0.568},{"v":-194,"h":0.69},{"v":-175,"h":0.723},{"v":-156,"h":0.69},{"v":-137,"h":0.59},{"v":-118,"h":0.43},{"v":-99,"h":0.247},{"v":-77,"h":0.087},{"v":-54,"h":0.018},{"v":-28,"h":0}]},"mark":{"type":"line","color":"black","strokeWidth":1.8,"interpolate":"monotone","clip":true},"encoding":{"x":{"field":"v","type":"quantitative","axis":{"orient":"bottom","values":[-300,-250,-150,-100,-50,50,100,150,250,300],"tickSize":-3,"labels":false,"title":null}},"y":{"field":"h","type":"quantitative","axis":null}}},{"data":{"values":[{"v":38.5,"v2":105.7,"h":0.689,"h2":0.571}]},"mark":{"type":"rect","color":"#00ff00"},"encoding":{"x":{"field":"v","type":"quantitative","axis":{"orient":"top","values":[-200,0,200],"tickSize":-6,"labels":false,"title":null}},"x2":{"field":"v2"},"y":{"field":"h","type":"quantitative","axis":null},"y2":{"field":"h2"}}},{"data":{"values":[{"v":38.5,"h":0.351},{"v":105.7,"h":0.351}]},"mark":{"type":"line","color":"black","strokeWidth":1.8},"encoding":{"x":{"field":"v","type":"quantitative","axis":{"orient":"top","values":[-300,-250,-150,-100,-50,50,100,150,250,300],"tickSize":-3,"labels":false,"title":null}},"y":{"field":"h","type":"quantitative","axis":null}}},{"data":{"values":[{"v":114,"h":0.7,"t":"Input"},{"v":114,"h":0.564,"t":"LOSVD"},{"v":114,"h":0.422,"t":"Analytic"},{"v":114,"h":0.283,"t":"fit"}]},"mark":{"type":"text","align":"left","baseline":"middle","font":"Liberation Mono","fontWeight":"bold","fontSize":17.7,"color":"#111"},"encoding":{"x":{"field":"v","type":"quantitative","axis":null},"y":{"field":"h","type":"quantitative","axis":null},"text":{"field":"t"}}}],"resolve":{"axis":{"x":"independent","y":"independent"}}}],"spacing":6.5}]}
